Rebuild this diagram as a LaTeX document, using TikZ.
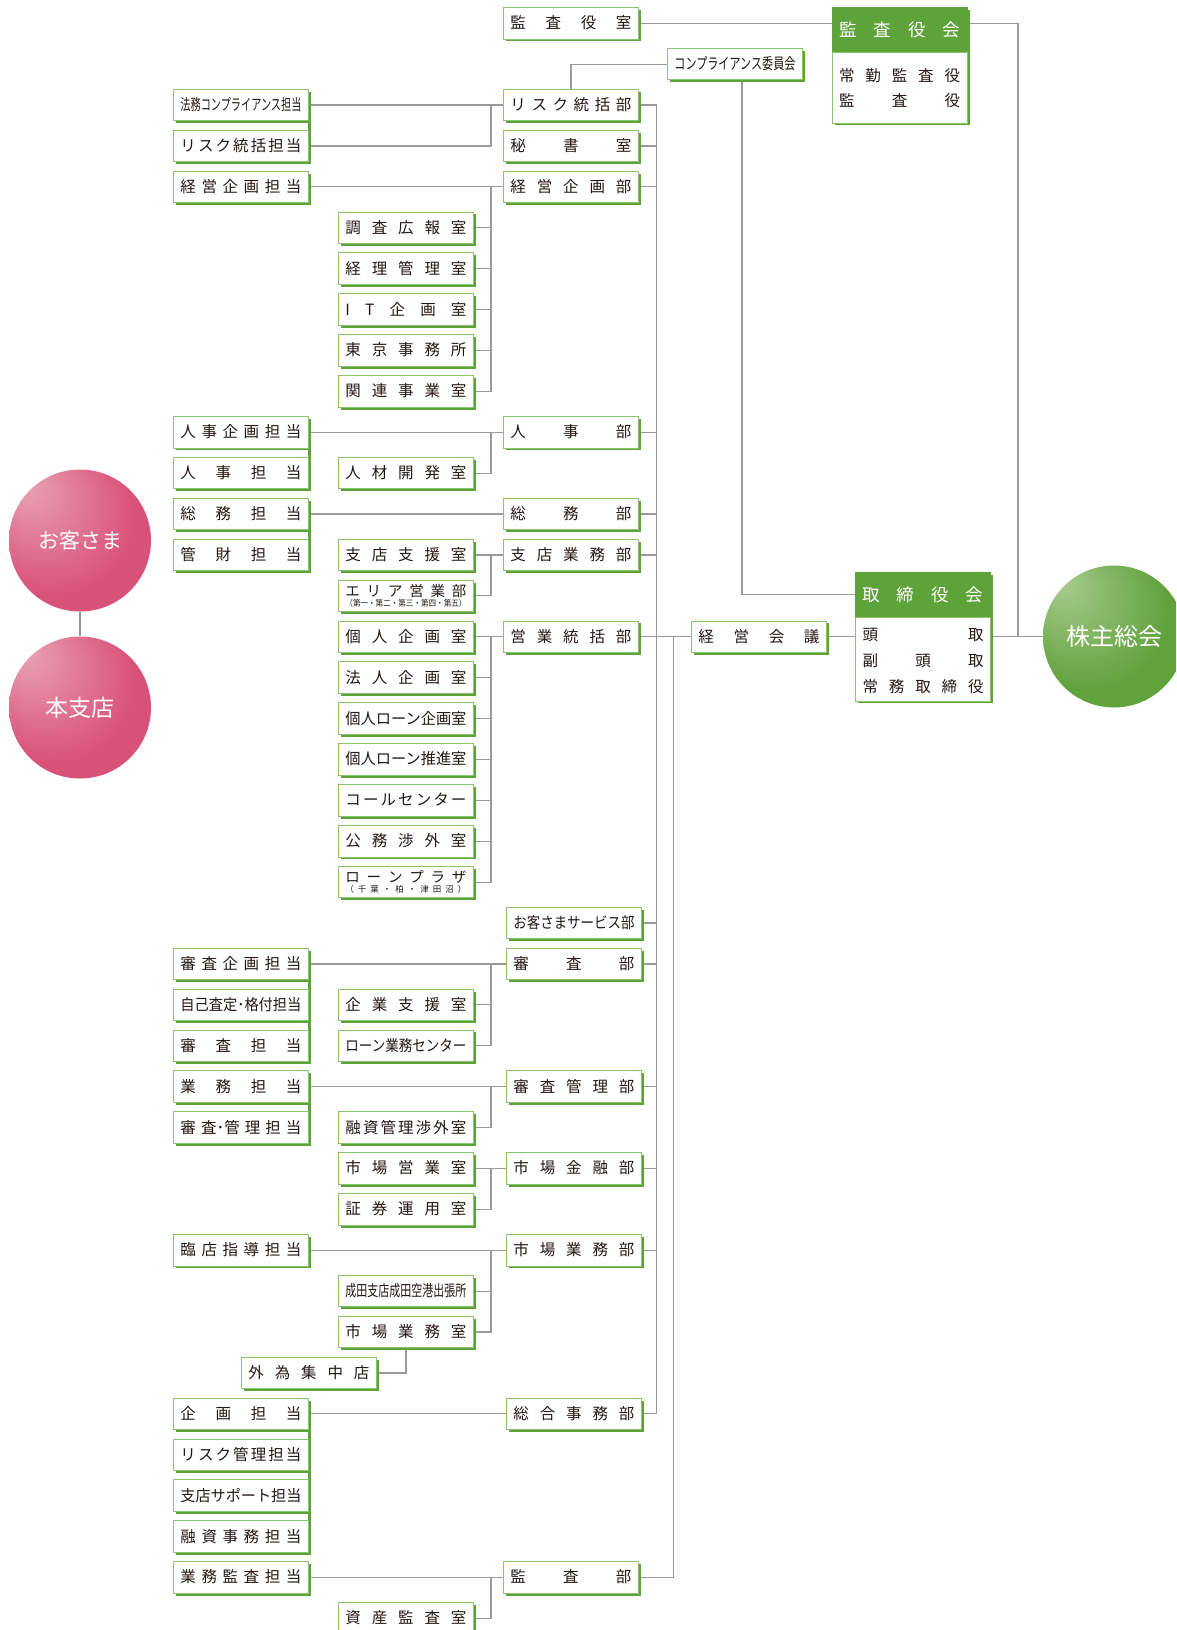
\documentclass[tikz,border=0pt]{standalone}
\usepackage{fontspec}
\setmainfont{Noto Sans CJK JP}
\usepackage{graphicx}
\usetikzlibrary{shadows,backgrounds}
\definecolor{gline}{HTML}{9A9A9A}
\definecolor{gdark}{HTML}{5EA23A}
\definecolor{glight}{HTML}{8CC46C}
\definecolor{pinkbase}{HTML}{D9527A}
\definecolor{pinkhi}{HTML}{E9A3B3}
\definecolor{grbase}{HTML}{60A23C}
\definecolor{grhi}{HTML}{A9CC90}
\definecolor{txt}{HTML}{231815}
\newlength\tw \setlength\tw{121pt}
\def\spreadloop#1#2\endspread{#1\if\relax\detokenize{#2}\relax\else\hfill\spreadloop#2\endspread\fi}
\newcommand\spr[1]{\makebox[\tw][s]{\spreadloop#1\endspread}}
\newcommand\fit[1]{\resizebox{\tw}{\height}{#1}}
\newcommand\Yt[1]{105+40.9*(#1)}
\newcommand\two[2]{\vbox{\offinterlineskip\hbox{\fontsize{14.5}{14.5}\selectfont\spr{#1}}\kern1.5pt\hbox{\fontsize{8.5}{8.5}\selectfont #2}}}
\pgfdeclareradialshading{pinkball}{\pgfpoint{-20bp}{20bp}}{color(0bp)=(pinkhi); color(28bp)=(pinkbase); color(50bp)=(pinkbase)}
\pgfdeclareradialshading{greenball}{\pgfpoint{-20bp}{20bp}}{color(0bp)=(grhi); color(28bp)=(grbase); color(50bp)=(grbase)}
\begin{document}
\begin{tikzpicture}[x=1pt,y=-1pt,
  sh/.style={drop shadow={shadow xshift=2.5pt,shadow yshift=-2.5pt,fill=gdark,draw=none,opacity=1}},
  boxbase/.style={draw=glight,line width=0.9pt,fill=white,minimum width=135pt,minimum height=31.5pt,inner sep=0pt,font=\fontsize{15.5}{18}\selectfont,text=txt,anchor=west,sh},
  box/.style={boxbase,text height=11.5pt,text depth=0.5pt},
  box2/.style={boxbase},
  hd/.style={fill=gdark,draw=gdark,line width=0.5pt,minimum width=135pt,minimum height=45pt,inner sep=0pt,anchor=north west,text=white,font=\fontsize{17.5}{20}\selectfont,text height=13pt,text depth=0.5pt,sh},
  bd/.style={fill=white,draw=glight,line width=0.9pt,minimum width=135pt,inner sep=0pt,anchor=north west,sh},
  bt/.style={inner sep=0pt,text height=11.5pt,text depth=0.5pt,font=\fontsize{15.5}{18}\selectfont,text=txt},
  ball/.style={circle,minimum size=142pt,inner sep=0pt,text=white},
  conn/.style={draw=gline,line width=1.2pt}]
\useasboundingbox (0,0) rectangle (1176,1630);
\clip (0,0) rectangle (1176,1630);

% circles
\node[ball,shading=pinkball,font=\fontsize{21}{24}\selectfont] (okyaku) at (80,540.5) {お客さま};
\node[ball,shading=pinkball,font=\fontsize{23}{26}\selectfont] (honshi) at (80,707.5) {本支店};
\node[ball,shading=greenball,font=\fontsize{24}{27}\selectfont] (kabu) at (1114,636.5) {株主総会};

% grouped right bars in column A
\fill[gdark] (307.5,{\Yt{0}-13.25}) rectangle (310.5,{\Yt{1}+18.25});
\fill[gdark] (307.5,{\Yt{8}-13.25}) rectangle (310.5,{\Yt{9}+18.25});
\fill[gdark] (307.5,{\Yt{10}-13.25}) rectangle (310.5,{\Yt{11}+18.25});
\fill[gdark] (307.5,{\Yt{21}-13.25}) rectangle (310.5,{\Yt{23}+18.25});
\fill[gdark] (307.5,{\Yt{24}-13.25}) rectangle (310.5,{\Yt{25}+18.25});
\fill[gdark] (307.5,{\Yt{32}-13.25}) rectangle (310.5,{\Yt{35}+18.25});

% column A
\node[box] (a0) at (173,{\Yt{0}}) {\fit{法務コンプライアンス担当}};
\node[box] (a1) at (173,{\Yt{1}}) {\spr{リスク統括担当}};
\node[box] (a2) at (173,{\Yt{2}}) {\spr{経営企画担当}};
\node[box] (a8) at (173,{\Yt{8}}) {\spr{人事企画担当}};
\node[box] (a9) at (173,{\Yt{9}}) {\spr{人事担当}};
\node[box] (a10) at (173,{\Yt{10}}) {\spr{総務担当}};
\node[box] (a11) at (173,{\Yt{11}}) {\spr{管財担当}};
\node[box] (a21) at (173,{\Yt{21}}) {\spr{審査企画担当}};
\node[box] (a22) at (173,{\Yt{22}}) {\fit{自己査定･格付担当}};
\node[box] (a23) at (173,{\Yt{23}}) {\spr{審査担当}};
\node[box] (a24) at (173,{\Yt{24}}) {\spr{業務担当}};
\node[box] (a25) at (173,{\Yt{25}}) {\spr{審{査･管}理担当}};
\node[box] (a28) at (173,{\Yt{28}}) {\spr{臨店指導担当}};
\node[box] (a32) at (173,{\Yt{32}}) {\spr{企画担当}};
\node[box] (a33) at (173,{\Yt{33}}) {\spr{リスク管理担当}};
\node[box] (a34) at (173,{\Yt{34}}) {\fit{支店サポート担当}};
\node[box] (a35) at (173,{\Yt{35}}) {\spr{融資事務担当}};
\node[box] (a36) at (173,{\Yt{36}}) {\spr{業務監査担当}};

% column B
\node[box] (b3) at (338,{\Yt{3}}) {\spr{調査広報室}};
\node[box] (b4) at (338,{\Yt{4}}) {\spr{経理管理室}};
\node[box] (b5) at (338,{\Yt{5}}) {\spr{IT企画室}};
\node[box] (b6) at (338,{\Yt{6}}) {\spr{東京事務所}};
\node[box] (b7) at (338,{\Yt{7}}) {\spr{関連事業室}};
\node[box] (b9) at (338,{\Yt{9}}) {\spr{人材開発室}};
\node[box] (b11) at (338,{\Yt{11}}) {\spr{支店支援室}};
\node[box2] (b12) at (338,{\Yt{12}}) {\two{エリア営業部}{\fit{（第一・第二・第三・第四・第五）}}};
\node[box] (b13) at (338,{\Yt{13}}) {\spr{個人企画室}};
\node[box] (b14) at (338,{\Yt{14}}) {\spr{法人企画室}};
\node[box] (b15) at (338,{\Yt{15}}) {\fit{個人ローン企画室}};
\node[box] (b16) at (338,{\Yt{16}}) {\fit{個人ローン推進室}};
\node[box] (b17) at (338,{\Yt{17}}) {\spr{コールセンター}};
\node[box] (b18) at (338,{\Yt{18}}) {\spr{公務渉外室}};
\node[box2] (b19) at (338,{\Yt{19}}) {\two{ローンプラザ}{\spr{（千葉・柏・津田沼）}}};
\node[box] (b22) at (338,{\Yt{22}}) {\spr{企業支援室}};
\node[box] (b23) at (338,{\Yt{23}}) {\fit{ローン業務センター}};
\node[box] (b25) at (338,{\Yt{25}}) {\spr{融資管理渉外室}};
\node[box] (b26) at (338,{\Yt{26}}) {\spr{市場営業室}};
\node[box] (b27) at (338,{\Yt{27}}) {\spr{証券運用室}};
\node[box] (b29) at (338,{\Yt{29}}) {\fit{成田支店成田空港出張所}};
\node[box] (b30) at (338,{\Yt{30}}) {\spr{市場業務室}};
\node[box] (b37) at (338,{\Yt{37}}) {\spr{資産監査室}};
\node[box] (gaitame) at (241,{\Yt{31}}) {\spr{外為集中店}};

% column C
\node[box] (shitsu) at (503,{\Yt{-2}}) {\spr{監査役室}};
\node[box] (r0) at (503,{\Yt{0}}) {\spr{リスク統括部}};
\node[box] (r1) at (503,{\Yt{1}}) {\spr{秘書室}};
\node[box] (r2) at (503,{\Yt{2}}) {\spr{経営企画部}};
\node[box] (r8) at (503,{\Yt{8}}) {\spr{人事部}};
\node[box] (r10) at (503,{\Yt{10}}) {\spr{総務部}};
\node[box] (r11) at (503,{\Yt{11}}) {\spr{支店業務部}};
\node[box] (r13) at (503,{\Yt{13}}) {\spr{営業統括部}};
\node[box] (r20) at (506,{\Yt{20}}) {\fit{お客さまサービス部}};
\node[box] (r21) at (506,{\Yt{21}}) {\spr{審査部}};
\node[box] (r24) at (506,{\Yt{24}}) {\spr{審査管理部}};
\node[box] (r26) at (506,{\Yt{26}}) {\spr{市場金融部}};
\node[box] (r28) at (506,{\Yt{28}}) {\spr{市場業務部}};
\node[box] (r32) at (506,{\Yt{32}}) {\spr{総合事務部}};
\node[box] (r36) at (503,{\Yt{36}}) {\spr{監査部}};

% right side
\node[box] (comp) at (667,{\Yt{-1}}) {\fit{コンプライアンス委員会}};
\node[box] (keiei) at (691,{\Yt{13}}) {\spr{経営会議}};

\node[hd] (khead) at (832,7) {\spr{監査役会}};
\node[bd,minimum height=70.5pt] (kbody) at (832,52) {};
\node[bt] (kl1) at (899.5,75.8) {\spr{常勤監査役}};
\node[bt] (kl2) at (899.5,101.3) {\spr{監査役}};

\node[hd] (thead) at (855,572) {\spr{取締役会}};
\node[bd,minimum height=83.5pt] (tbody) at (855,617) {};
\node[bt] (tl1) at (923,635) {\spr{頭取}};
\node[bt] (tl2) at (923,660.8) {\spr{副頭取}};
\node[bt] (tl3) at (923,686.7) {\spr{常務取締役}};

\coordinate (V) at (491,0);
\coordinate (T1) at (656.5,0);
\coordinate (T2) at (673.5,0);
\coordinate (J1) at (1018,0);
\coordinate (CP) at (742,0);

\begin{pgfonlayer}{background}
\fill[white] (0,0) rectangle (1176,1630);
% top right
\draw[conn] (shitsu.east) -- (shitsu.east -| khead.west);
\draw[conn] (shitsu.east -| khead.east) -| (J1 |- r13.east);
\draw[conn] (tbody.east |- r13.east) -- (kabu.west |- r13.east);
\draw[conn] (comp.west) -| (r0.north);
\draw[conn] (CP |- comp.south) |- (thead.west);
\draw[conn] (r13.east) -- (keiei.west);
\draw[conn] (keiei.east) -- (tbody.west |- keiei.east);
% trunks
\draw[conn] (r0.east) -| (T1 |- r32.east);
\foreach \n in {r1,r2,r8,r10,r11,r20,r21,r24,r26,r28,r32}
  \draw[conn] (\n.east) -- (\n.east -| T1);
\draw[conn] (T2 |- r13.east) |- (r36.east);
% left groups
\draw[conn] (a0.east) -- (r0.west);
\draw[conn] (a1.east) -| (V |- r0.west);
\draw[conn] (a2.east) -- (r2.west);
\foreach \n in {b3,b4,b5,b6,b7}
  \draw[conn] (\n.east) -| (V |- r2.west);
\draw[conn] (a8.east) -- (r8.west);
\draw[conn] (b9.east) -| (V |- r8.west);
\draw[conn] (a10.east) -- (r10.west);
\draw[conn] (b11.east) -- (r11.west);
\draw[conn] (b12.east) -| (V |- r11.west);
\draw[conn] (b13.east) -- (r13.west);
\foreach \n in {b14,b15,b16,b17,b18,b19}
  \draw[conn] (\n.east) -| (V |- r13.west);
\draw[conn] (a21.east) -- (r21.west);
\foreach \n in {b22,b23}
  \draw[conn] (\n.east) -| (V |- r21.west);
\draw[conn] (a24.east) -- (r24.west);
\draw[conn] (b25.east) -| (V |- r24.west);
\draw[conn] (b26.east) -- (r26.west);
\draw[conn] (b27.east) -| (V |- r26.west);
\draw[conn] (a28.east) -- (r28.west);
\foreach \n in {b29,b30}
  \draw[conn] (\n.east) -| (V |- r28.west);
\draw[conn] (gaitame.east) -| (b30.south);
\draw[conn] (a32.east) -- (r32.west);
\draw[conn] (a36.east) -- (r36.west);
\draw[conn] (b37.east) -| (V |- r36.west);
\draw[conn] (okyaku.south) -- (honshi.north);
\end{pgfonlayer}
\end{tikzpicture}
\end{document}
